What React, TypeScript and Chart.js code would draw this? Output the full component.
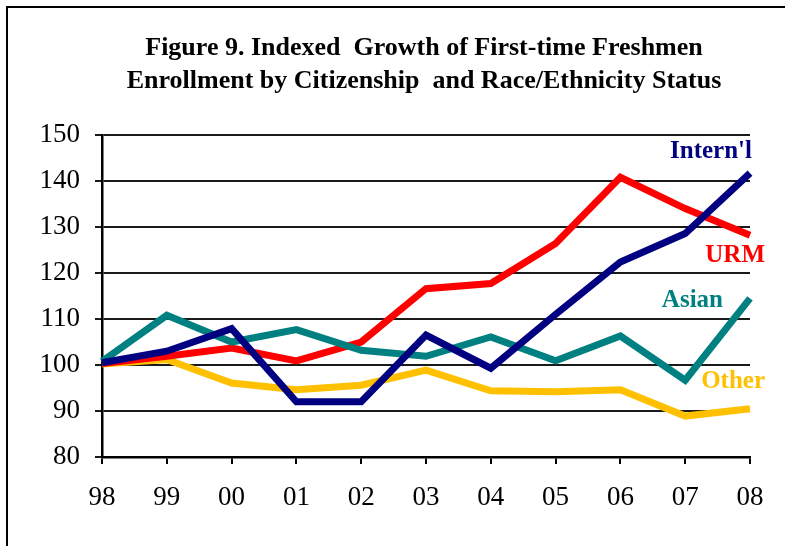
import React, { useEffect, useRef } from "react";
import { Chart, registerables } from "chart.js";

Chart.register(...registerables);

const years = ["98", "99", "00", "01", "02", "03", "04", "05", "06", "07", "08"];
const internl = [100.5, 103, 107.9, 92, 92, 106.5, 99.3, 111, 122.4, 128.6, 141.7];
const asian = [100.8, 110.8, 105, 107.7, 103.2, 101.9, 106.1, 100.9, 106.3, 96.7, 114.5];
const urm = [100.3, 101.9, 103.7, 100.9, 105, 116.6, 117.7, 126.4, 140.8, 134, 128.2];
const other = [100.2, 101.2, 96.1, 94.6, 95.6, 98.9, 94.4, 94.2, 94.6, 88.9, 90.5];
const yTicks = [80, 90, 100, 110, 120, 130, 140, 150];
const titleLines = [
  "Figure 9. Indexed  Growth of First-time Freshmen",
  "Enrollment by Citizenship  and Race/Ethnicity Status",
];
const seriesNames = ["Intern'l", "Asian", "URM", "Other"];
const seriesColors = ["#000080", "#008080", "#FF0000", "#FFC000"];
// label anchor values on the y scale (where each series name sits)
const labelValues = [146.3, 114.1, 123.9, 96.5];
// horizontal offset of the right edge of each name from the plot's right edge (px)
const labelOffsets = [2, -27, 15, 15];

const SERIF = "'Liberation Serif', 'Times New Roman', serif";

const textPlugin = {
  id: "textPlugin",
  afterDraw(chart: any) {
    const ctx = chart.ctx;
    const area = chart.chartArea;
    const y = chart.scales.y;
    ctx.save();
    ctx.fillStyle = "#000";
    ctx.font = `bold 26px ${SERIF}`;
    ctx.textAlign = "center";
    ctx.textBaseline = "middle";
    ctx.fillText(titleLines[0], 424, 48);
    ctx.fillText(titleLines[1], 424, 81);
    ctx.font = `bold 25px ${SERIF}`;
    ctx.textAlign = "right";
    seriesNames.forEach((n, i) => {
      ctx.fillStyle = seriesColors[i];
      ctx.fillText(n, area.right + labelOffsets[i], y.getPixelForValue(labelValues[i]));
    });
    ctx.restore();
  },
};

export default function App() {
  const ref = useRef<HTMLCanvasElement>(null);
  useEffect(() => {
    if (!ref.current) return;
    const datasets = [internl, asian, urm, other].map((d, i) => ({
      label: seriesNames[i],
      data: d,
      borderColor: seriesColors[i],
      backgroundColor: seriesColors[i],
      borderWidth: 7,
      pointRadius: 0,
      tension: 0,
      borderJoinStyle: "miter" as const,
      fill: false,
    }));
    const chart = new Chart(ref.current, {
      type: "line",
      data: { labels: years, datasets },
      plugins: [textPlugin],
      options: {
        animation: false,
        responsive: false,
        devicePixelRatio: 1,
        layout: { padding: { top: 135, right: 35, left: 0, bottom: 0 } },
        plugins: {
          legend: { display: false },
          tooltip: { enabled: false },
          title: { display: false },
        },
        scales: {
          x: {
            offset: false,
            grid: {
              display: true,
              drawOnChartArea: false,
              drawTicks: true,
              tickLength: 7,
              color: "#000",
              lineWidth: 2,
            },
            border: { display: true, color: "#000", width: 2.5 },
            ticks: {
              color: "#000",
              font: { family: SERIF, size: 27 },
              padding: 18,
              maxRotation: 0,
              autoSkip: false,
            },
            afterFit: (s: any) => {
              s.height = 89;
            },
          },
          y: {
            min: 80,
            max: 150,
            afterBuildTicks: (s: any) => {
              s.ticks = yTicks.map((v) => ({ value: v }));
            },
            grid: {
              color: "#1a1a1a",
              lineWidth: 2,
              drawTicks: true,
              tickLength: 7,
            },
            border: { display: true, color: "#000", width: 2.5 },
            ticks: {
              color: "#000",
              font: { family: SERIF, size: 27 },
              padding: 15,
            },
            afterFit: (s: any) => {
              s.width = 102;
            },
          },
        },
      },
    });
    return () => chart.destroy();
  }, []);
  return (
    <div style={{ position: "absolute", left: 0, top: 0, width: 785, height: 546, background: "#fff" }}>
      <div
        style={{
          position: "absolute",
          left: 6,
          top: 6,
          width: 785,
          height: 546,
          borderLeft: "2px solid #000",
          borderTop: "2px solid #000",
          boxSizing: "border-box",
        }}
      />
      <canvas ref={ref} width={785} height={546} style={{ position: "absolute", left: 0, top: 0 }} />
    </div>
  );
}
